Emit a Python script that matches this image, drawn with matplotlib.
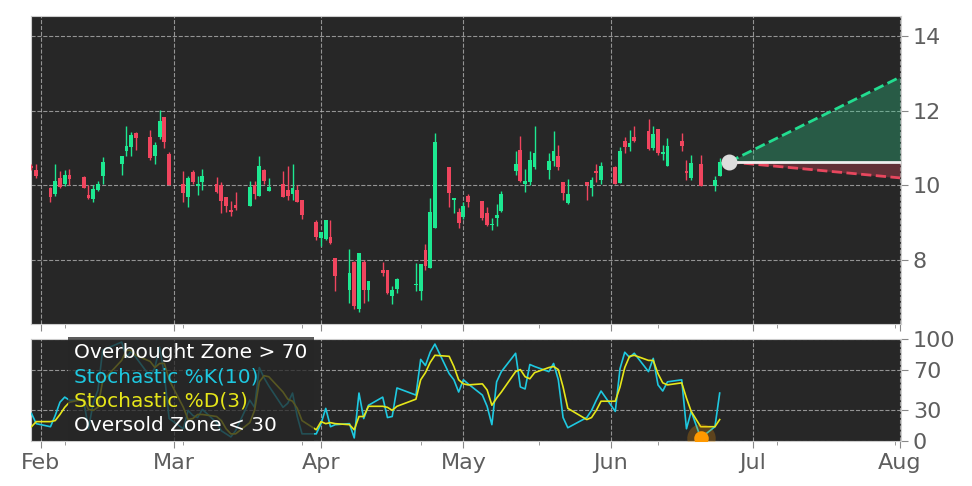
#Candlestick chart with stochastic oscillator panel and price projection cone
import numpy as np
import pandas as pd
import matplotlib
matplotlib.use("Agg")
import matplotlib.pyplot as plt
import matplotlib.dates as mdates
from matplotlib.lines import Line2D

#trading days (market holidays removed)
holidays = ['2025-02-17', '2025-04-18', '2025-05-26', '2025-06-19']
dates = pd.bdate_range('2025-01-30', '2025-06-24')
dates = dates[~dates.isin(pd.to_datetime(holidays))]

open_ = [10.52, 10.40, 9.93, 9.78, 10.20, 10.04, 10.28, 10.22, 9.75, 9.63,
         9.87, 10.25, 10.56, 10.93, 11.02, 11.40, 11.29, 10.80, 11.29, 11.82,
         10.85, 10.04, 9.70, 10.36, 9.97, 10.09, 10.04, 10.00, 9.69, 9.34,
         9.47, 9.44, 10.00, 9.71, 10.40, 9.85, 10.03, 9.88, 9.76, 9.87,
         9.60, 9.03, 8.60, 8.57, 8.62, 8.05, 7.19, 7.96, 6.68, 7.96,
         7.21, 7.74, 7.72, 7.03, 7.23, 7.32, 7.16, 8.28, 7.79, 8.85,
         10.50, 9.62, 9.30, 9.14, 9.72, 9.57, 9.26, 8.93, 9.13, 9.32,
         10.38, 10.95, 10.03, 10.09, 10.49, 10.40, 10.65, 10.80, 10.09, 9.52,
         10.09, 9.94, 10.38, 10.15, 10.49, 10.06, 11.19, 11.03, 11.29, 11.45,
         11.01, 11.50, 10.85, 10.52, 11.18, 10.39, 10.21, 10.57, 9.98, 10.25]
high = [10.56, 10.58, 9.95, 10.56, 10.38, 10.42, 10.44, 10.24, 10.02, 10.00,
        10.13, 10.76, 10.78, 11.58, 11.42, 11.42, 11.47, 11.16, 12.03, 11.82,
        10.89, 10.39, 10.26, 10.41, 10.26, 10.44, 10.22, 10.09, 9.70, 9.58,
        9.82, 10.13, 10.13, 10.80, 10.44, 10.20, 10.38, 10.53, 10.58, 10.00,
        9.61, 9.08, 8.74, 9.08, 9.08, 8.06, 8.29, 7.97, 8.20, 7.99,
        7.43, 7.96, 7.73, 7.30, 7.52, 7.92, 7.90, 8.44, 9.65, 11.39,
        10.50, 9.67, 9.40, 9.56, 9.76, 9.57, 9.43, 9.13, 9.50, 9.86,
        10.92, 11.32, 10.44, 10.92, 11.58, 10.88, 11.46, 11.07, 10.10, 10.18,
        10.10, 10.22, 10.56, 10.62, 10.53, 11.02, 11.30, 11.49, 11.60, 11.78,
        11.60, 11.50, 11.07, 11.26, 11.40, 10.69, 10.81, 10.81, 10.25, 10.72]
low = [10.42, 10.20, 9.55, 9.72, 9.93, 9.98, 10.00, 9.92, 9.64, 9.55,
       9.84, 10.03, 10.27, 10.79, 10.78, 10.96, 10.68, 10.56, 11.24, 11.01,
       10.02, 9.56, 9.42, 10.04, 9.75, 9.87, 9.80, 9.26, 9.29, 9.17,
       9.35, 9.44, 9.64, 9.71, 10.03, 9.85, 9.69, 9.60, 9.60, 9.56,
       9.11, 8.54, 8.38, 8.53, 8.43, 7.16, 6.85, 6.68, 6.60, 6.85,
       6.90, 7.56, 7.08, 6.81, 7.12, 7.16, 6.94, 7.72, 7.79, 8.85,
       9.43, 9.26, 8.86, 9.10, 9.42, 9.07, 8.91, 8.81, 8.91, 9.29,
       10.27, 10.09, 9.82, 10.00, 10.44, 10.18, 10.53, 10.40, 9.62, 9.50,
       9.60, 9.72, 10.10, 10.04, 10.03, 10.06, 10.88, 10.92, 11.16, 10.95,
       10.94, 10.81, 10.67, 10.51, 10.92, 10.14, 10.14, 9.98, 9.86, 10.25]
close = [10.46, 10.25, 9.69, 10.13, 9.96, 10.28, 10.16, 9.94, 9.66, 9.91,
         10.04, 10.62, 10.78, 11.05, 11.35, 11.26, 10.72, 11.07, 11.73, 11.16,
         10.02, 9.80, 10.20, 10.08, 10.03, 10.24, 9.82, 9.58, 9.44, 9.29,
         9.40, 9.96, 9.76, 10.53, 10.12, 9.96, 9.69, 9.71, 9.94, 9.56,
         9.20, 8.62, 8.74, 9.08, 8.45, 7.56, 7.65, 6.76, 8.20, 7.21,
         7.43, 7.64, 7.12, 7.19, 7.49, 7.37, 7.90, 7.85, 9.30, 11.16,
         9.80, 9.66, 9.00, 9.46, 9.56, 9.13, 8.94, 8.97, 9.20, 9.78,
         10.58, 10.12, 10.11, 10.68, 10.86, 10.66, 10.93, 10.49, 9.79, 9.78,
         10.00, 10.15, 10.33, 10.53, 10.04, 10.93, 11.04, 11.13, 11.20, 10.98,
         11.38, 10.87, 10.89, 11.05, 11.05, 10.34, 10.60, 9.98, 10.14, 10.63]

#stochastic oscillator values
stoch_k = [27, 17, 14, 25, 38, 43, 40, 40, 12, 37,
           50, 89, 97, 82, 88, 82, 63, 72, 92, 65,
           22, 12, 30, 25, 23, 31, 18, 10, 7, 4,
           10, 40, 33, 72, 62, 54, 33, 37, 47, 24,
           7, 7, 17, 32, 14, 16, 17, 3, 47, 22,
           35, 43, 23, 24, 52, 45, 80, 74, 87, 95,
           66, 60, 48, 60, 56, 45, 34, 16, 58, 68,
           86, 53, 51, 75, 73, 68, 76, 60, 23, 13,
           23, 30, 40, 49, 29, 71, 87, 82, 86, 68,
           81, 55, 49, 58, 60, 12, 29, 3, 14, 47]
stoch_d = [14, 19, 19, 20, 26, 33, 38, 41, 31, 30,
           33, 59, 79, 89, 89, 84, 78, 72, 76, 76,
           60, 33, 21, 22, 26, 26, 24, 20, 12, 7,
           7, 18, 30, 58, 64, 63, 48, 41, 39, 32,
           20, 11, 19, 17, 18, 17, 16, 11, 24, 24,
           34, 34, 33, 30, 34, 41, 60, 67, 77, 84,
           83, 73, 60, 56, 55, 56, 50, 35, 42, 48,
           68, 70, 63, 61, 67, 72, 73, 70, 53, 32,
           21, 23, 30, 39, 39, 53, 72, 83, 84, 79,
           79, 66, 57, 55, 57, 42, 29, 14, 14, 21]
stoch_dates = dates

#projection cone
proj_dates = pd.to_datetime(['2025-06-26', '2025-08-01'])
proj_mid = [10.63, 10.63]
proj_upper = [10.63, 12.90]
proj_lower = [10.63, 10.20]
signal_idx = 97

up_color = '#1de891'
down_color = '#f0455e'
bg_color = '#272727'
grid_color = '#b0b0b0'
label_color = '#5e5e5e'

fig = plt.figure(figsize=(9.72, 4.86), dpi=100)
ax = fig.add_axes([0.0319, 0.3333, 0.8951, 0.6337])
ax2 = fig.add_axes([0.0319, 0.0926, 0.8951, 0.2099], sharex=ax)

#candles
o = np.array(open_)
c = np.array(close)
colors = [up_color if cc >= oo else down_color for oo, cc in zip(o, c)]
ax.vlines(dates, low, high, color=colors, linewidth=1, zorder=3)
body_bottom = np.minimum(o, c)
body_height = np.maximum(np.abs(c - o), 0.04)
ax.bar(dates, body_height, bottom=body_bottom, width=0.8, color=colors, zorder=4)

#projection
ax.fill_between(proj_dates, proj_mid, proj_upper, color='#2bd58f', alpha=0.3, linewidth=0, zorder=2)
ax.fill_between(proj_dates, proj_lower, proj_mid, color='#e8475e', alpha=0.3, linewidth=0, zorder=2)
ax.plot(proj_dates, proj_upper, linestyle='--', color='#22dd90', linewidth=2, zorder=3)
ax.plot(proj_dates, proj_lower, linestyle='--', color='#e8475e', linewidth=2, zorder=3)
ax.plot(proj_dates, proj_mid, color='#eeeeee', linewidth=2, zorder=3)
ax.scatter(proj_dates[:1], proj_mid[:1], s=110, color='#dddddd', zorder=6)

#stochastic panel
ax2.plot(stoch_dates, stoch_k, color='#1ec8e0', linewidth=1.2, zorder=3)
ax2.plot(stoch_dates, stoch_d, color='#e6e619', linewidth=1.2, zorder=3)
ax2.scatter([stoch_dates[signal_idx]], [stoch_k[signal_idx]], s=420, color='#ff9900', alpha=0.25, linewidth=0, zorder=4)
ax2.scatter([stoch_dates[signal_idx]], [stoch_k[signal_idx]], s=110, color='#ff9900', linewidth=0, zorder=5)

#axes styling
minor_ticks = pd.to_datetime(['2025-02-06', '2025-03-03', '2025-03-28', '2025-04-22',
                              '2025-05-17', '2025-06-11', '2025-07-06', '2025-07-31'])
for a in (ax, ax2):
    a.set_facecolor(bg_color)
    a.yaxis.tick_right()
    a.xaxis.set_major_locator(mdates.MonthLocator())
    a.xaxis.set_major_formatter(mdates.DateFormatter('%b'))
    a.set_xticks(minor_ticks, minor=True)
    a.tick_params(axis='both', which='major', labelsize=16, labelcolor=label_color,
                  color='#888888', length=5)
    a.tick_params(axis='x', which='minor', color='#888888', length=3)
    a.grid(True, which='major', linestyle='--', color=grid_color, linewidth=0.8, alpha=0.8)
    for s in a.spines.values():
        s.set_color('#cccccc')

ax.set_xlim(pd.Timestamp('2025-02-01') - pd.Timedelta(days=2.1),
            pd.Timestamp('2025-08-01') + pd.Timedelta(hours=5))
ax.set_ylim(6.286, 14.536)
ax.set_yticks([8, 10, 12, 14])
ax.tick_params(axis='x', labelbottom=False)

ax2.set_ylim(0, 100)
ax2.set_yticks([0, 30, 70, 100])

#legend
labels = ['Overbought Zone > 70', 'Stochastic %K(10)', 'Stochastic %D(3)', 'Oversold Zone < 30']
text_colors = ['#ffffff', '#1ec8e0', '#e6e619', '#ffffff']
handles = [Line2D([], [], alpha=0) for _ in labels]
leg = ax2.legend(handles, labels, loc='upper left', bbox_to_anchor=(0.0428, 1.02),
                 borderaxespad=0, handlelength=0, handletextpad=0, fontsize=14.5,
                 labelspacing=0.27, borderpad=0.3, facecolor='#262626',
                 framealpha=0.75, edgecolor='none', fancybox=False)
for t, col in zip(leg.get_texts(), text_colors):
    t.set_color(col)

fig.savefig('out.png', dpi=100)
